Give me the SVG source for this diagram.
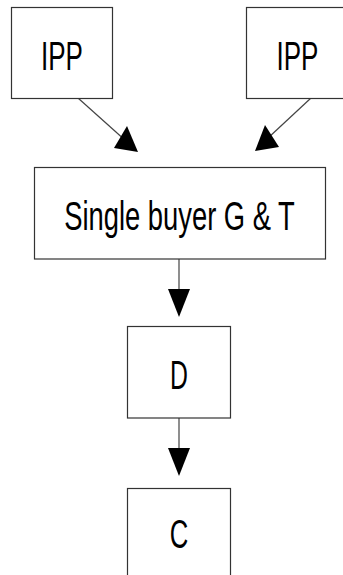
<svg xmlns="http://www.w3.org/2000/svg" width="343" height="575" viewBox="0 0 343 575">
  <style>
    .box { fill: #ffffff; stroke: #333333; stroke-width: 1.2; }
    .lbl { font-family: "Liberation Sans", Arial, sans-serif; font-size: 40px; fill: #000000; text-anchor: middle; }
    .edge { stroke: #444444; stroke-width: 1.2; fill: none; }
    .head { fill: #000000; stroke: none; }
  </style>
  <rect width="343" height="575" fill="#ffffff"/>
  <g id="connectors">
    <line class="edge" x1="78" y1="98" x2="126" y2="141"/>
    <polygon class="head" points="138,152 114,148 127,126"/>
    <line class="edge" x1="311" y1="98" x2="268" y2="138"/>
    <polygon class="head" points="255,151 265,125 279,147"/>
    <line class="edge" x1="179" y1="259" x2="179" y2="290"/>
    <polygon class="head" points="168,289 190,289 179,317"/>
    <line class="edge" x1="179" y1="418" x2="179" y2="449"/>
    <polygon class="head" points="168,448 190,448 179,476"/>
  </g>
  <g id="ipp-left">
    <rect class="box" x="11.5" y="7.5" width="101" height="91"/>
    <text class="lbl" transform="translate(62,70) scale(0.65,1)">IPP</text>
  </g>
  <g id="ipp-right">
    <rect class="box" x="246.5" y="7.5" width="110" height="91"/>
    <text class="lbl" transform="translate(297.5,70) scale(0.65,1)">IPP</text>
  </g>
  <g id="single-buyer">
    <rect class="box" x="34.5" y="167.5" width="291" height="91.5"/>
    <text class="lbl" transform="translate(179.5,230) scale(0.684,1)">Single buyer G &amp; T</text>
  </g>
  <g id="distribution">
    <rect class="box" x="127.5" y="326.5" width="103" height="91.5"/>
    <text class="lbl" transform="translate(179,389) scale(0.62,1)">D</text>
  </g>
  <g id="customer">
    <rect class="box" x="127.5" y="488.5" width="103" height="100"/>
    <text class="lbl" transform="translate(179,548) scale(0.64,1)">C</text>
  </g>
</svg>
